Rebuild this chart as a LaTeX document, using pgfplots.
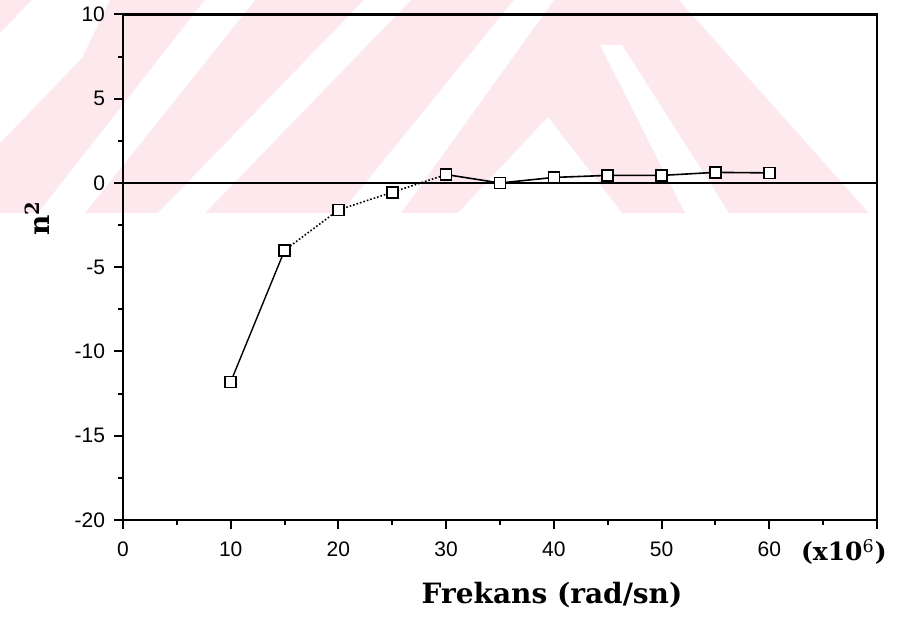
\documentclass[border=0pt]{standalone}
\usepackage{fontspec}
\usepackage{pgfplots}
\pgfplotsset{compat=1.18}
\setmainfont{Liberation Sans}
\newfontfamily\labfont{DejaVu Serif}
\definecolor{wm}{RGB}{253,233,237}
\begin{document}
\begin{tikzpicture}
\begin{scope}[x=0.5pt,y=-0.5pt,shift={(-123,-520)}]
\path[use as bounding box] (0,0) rectangle (903,624);
\fill[wm] (0,0) rectangle (903,213);
\fill[white] (32,0) -- (110,0) -- (82,58) -- (0,143) -- (0,33) -- cycle;
\fill[white] (205,0) -- (255,0) -- (85,213) -- (38,213) -- cycle;
\fill[white] (364,0) -- (411,0) -- (205,213) -- (158,213) -- cycle;
\fill[white] (514,0) -- (554,0) -- (401,213) -- (341,213) -- cycle;
\fill[white] (548,117) -- (458,213) -- (622,213) -- cycle;
\fill[white] (600,45) -- (622,45) -- (729,213) -- (685,213) -- cycle;
\fill[white] (679,0) -- (903,0) -- (903,213) -- (869,213) -- cycle;
\end{scope}
\begin{axis}[
  at={(0,0)}, anchor=south west,
  scale only axis, width=377pt, height=252.75pt,
  xmin=0, xmax=70, ymin=-20, ymax=10,
  axis line style={line width=1.2pt},
  xtick={0,10,...,70},
  xticklabels={0,10,20,30,40,50,60,{}},
  ytick={-20,-15,...,10},
  yticklabels={-20,-15,-10,-5,0,5,10},
  minor x tick num=1, minor y tick num=1,
  xtick pos=bottom, ytick pos=left,
  tick align=outside,
  major tick length=4.5pt, minor tick length=2.5pt,
  every tick/.style={black, line width=1pt},
  tick label style={font=\fontsize{10.5}{12}\selectfont},
  yticklabel style={xshift=-1pt},
  xticklabel style={yshift=-3pt},
  xlabel={Frekans (rad/sn)},
  xlabel style={font=\labfont\bfseries\fontsize{14}{16}\selectfont, at={(axis description cs:0.569,-0.148)}, anchor=center},
  ylabel={n\textsuperscript{2}},
  ylabel style={font=\labfont\bfseries\fontsize{14}{16}\selectfont, at={(axis description cs:-0.114,0.597)}, anchor=center},
  clip=false,
]
\addplot[black, line width=0.8pt, forget plot] coordinates {(0,0) (70,0)};
\addplot[black, line width=0.7pt] coordinates {(10,-11.8) (15,-4.0)};
\addplot[black, line width=0.8pt, densely dotted] coordinates {(15,-4.0) (20,-1.6) (25,-0.55) (30,0.5)};
\addplot[black, line width=0.8pt] coordinates {(30,0.5) (35,0.0) (40,0.33) (45,0.45) (50,0.45) (55,0.63) (60,0.6)};
\addplot[only marks, mark=square*, mark size=2.75pt, mark options={fill=white, draw=black, line width=0.8pt}] coordinates {
(10,-11.8) (15,-4.0) (20,-1.6) (25,-0.55) (30,0.5) (35,0.0) (40,0.33) (45,0.45) (50,0.45) (55,0.63) (60,0.6)};
\node[font=\labfont\bfseries\fontsize{12.5}{14}\selectfont, anchor=west] at (axis cs:62.3,-20) [yshift=-16pt] {(x10\textsuperscript{\mdseries 6})};
\end{axis}
\end{tikzpicture}
\end{document}
